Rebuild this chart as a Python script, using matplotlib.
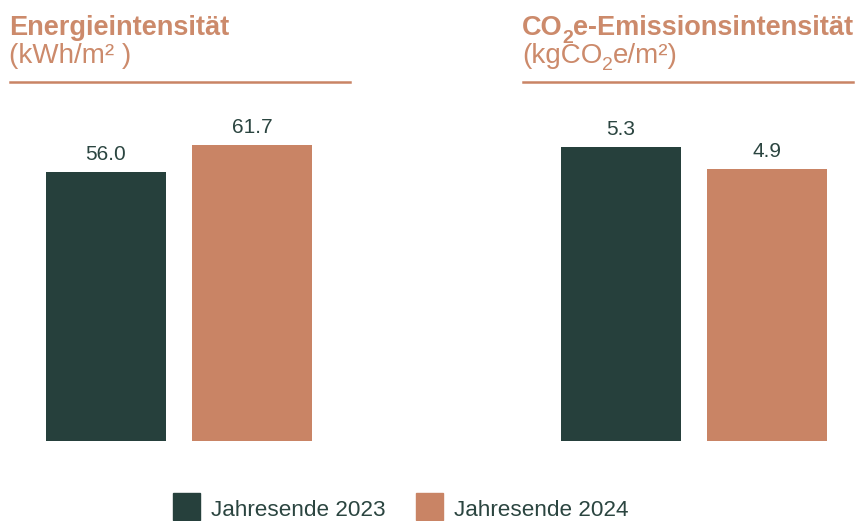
import matplotlib
matplotlib.use("Agg")
from matplotlib import pyplot as plt

plt.rcParams['font.family'] = ['Liberation Sans', 'DejaVu Sans']

# data
years = ['Jahresende 2023', 'Jahresende 2024']
energy = [56.0, 61.7]
co2 = [5.3, 4.9]

dark = '#26403c'
copper = '#c98465'
title_col = '#cc8a6b'

W, H = 855, 521
fig = plt.figure(figsize=(W / 100, H / 100), dpi=100)
renderer = fig.canvas.get_renderer()


def px_ax(x0, x1, y_top, y_bot):
    return fig.add_axes([x0 / W, 1 - y_bot / H, (x1 - x0) / W, (y_bot - y_top) / H])


def draw_panel(x0, x1, vals, scale):
    # axes spans bar area; scale = pixels per unit
    ax = px_ax(x0, x1, 100, 440.5)
    ax.set_xlim(-0.411, 1.411)
    ax.set_ylim(0, 340.5 / scale)
    ax.bar([0, 1], vals, width=0.822, color=[dark, copper])
    for i, v in enumerate(vals):
        ax.annotate('%.1f' % v, (i, v), xytext=(0, 5.5), textcoords='offset points',
                    ha='center', va='bottom', fontsize=15, color='#2b4540')
    ax.axis('off')


draw_panel(46, 312, energy, 268.5 / 56.0)
draw_panel(561, 827, co2, 55.4)


def rich(x, y, parts):
    # draw text pieces side by side, y = baseline in pixels from top
    for s, size, dy, weight in parts:
        t = fig.text(x / W, 1 - (y + dy) / H, s, fontsize=size, fontweight=weight,
                     color=title_col, va='baseline', ha='left')
        bb = t.get_window_extent(renderer)
        x += bb.width


rich(9, 35, [('Energieintensität', 19.5, 0, 'bold')])
rich(9, 63, [('(kWh/m² )', 20, 0, 'normal')])
rich(522, 35, [('CO', 19.5, 0, 'bold'), ('2', 14, 8, 'bold'),
               ('e-Emissionsintensität', 19.5, 0, 'bold')])
rich(522, 63, [('(kgCO', 20, 0, 'normal'), ('2', 14, 7, 'normal'),
               ('e/m²)', 20, 0, 'normal')])

fig.add_artist(plt.Line2D([10 / W, 350 / W], [1 - 82 / H] * 2, color=copper, lw=1.8))
fig.add_artist(plt.Line2D([523 / W, 853 / W], [1 - 82 / H] * 2, color=copper, lw=1.8))

# legend
for lx, col, lab in [(173, dark, years[0]), (416, copper, years[1])]:
    fig.add_artist(plt.Rectangle((lx / W, 1 - 520 / H), 27 / W, 27 / H, color=col))
    fig.text((lx + 38) / W, 1 - 516 / H, lab, fontsize=16.2, color='#2b4540',
             va='baseline', ha='left')

fig.savefig('out.png', dpi=100)
